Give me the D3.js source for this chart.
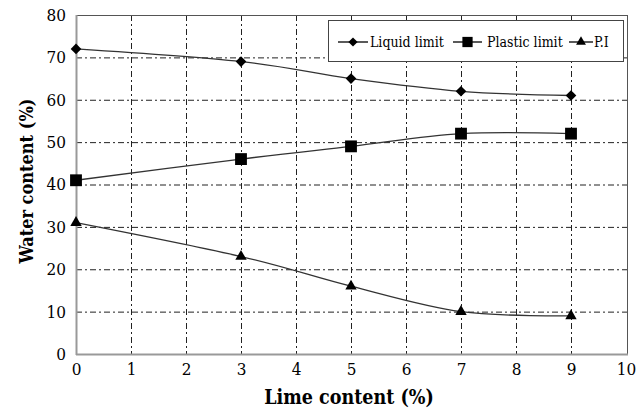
<!DOCTYPE html>
<html>
<head>
<meta charset="utf-8">
<script src="https://cdn.jsdelivr.net/npm/d3@7"></script>
<style>
  html, body { margin: 0; padding: 0; background: #fff; }
  svg { display: block; }
  .tick text { font-family: "DejaVu Serif Condensed", "DejaVu Serif", serif; font-size: 17px; fill: #000; }
  .title { font-family: "DejaVu Serif Condensed", "DejaVu Serif", serif; font-weight: bold; fill: #000; }
  .legend text { font-family: "DejaVu Serif Condensed", "DejaVu Serif", serif; font-size: 14px; fill: #000; }
</style>
</head>
<body>
<svg id="chart" width="638" height="410"></svg>
<script>
// Lime content (%) and the Atterberg limits measured at each dosage
const limeContent = [0, 3, 5, 7, 9];
const liquidLimit = [72, 69, 65, 62, 61];
const plasticLimit = [41, 46, 49, 52, 52];
const plasticityIndex = [31, 23, 16, 10, 9];
const seriesNames = ["Liquid limit", "Plastic limit", "P.I"];
const xTicks = [0, 1, 2, 3, 4, 5, 6, 7, 8, 9, 10];
const yTicks = [0, 10, 20, 30, 40, 50, 60, 70, 80];

const svg = d3.select("#chart");
const plotLeft = 76, plotRight = 627, plotTop = 15, plotBottom = 354;

const x = d3.scaleLinear().domain([0, 10]).range([plotLeft, plotRight - 1]);
const y = d3.scaleLinear().domain([0, 80]).range([plotBottom, plotTop]);

// dash-dot grid
const grid = svg.append("g").attr("stroke", "#222").attr("stroke-width", 1)
  .attr("stroke-dasharray", "6,3,2,3");
grid.selectAll("line.h").data(yTicks.filter(d => d > 0 && d < 80)).join("line")
  .attr("x1", plotLeft).attr("x2", plotRight).attr("y1", d => y(d) + 0.5).attr("y2", d => y(d) + 0.5);
grid.selectAll("line.v").data(xTicks.filter(d => d > 0 && d < 10)).join("line")
  .attr("x1", d => Math.round(x(d)) + 0.5).attr("x2", d => Math.round(x(d)) + 0.5)
  .attr("y1", plotTop).attr("y2", plotBottom);

// plot frame
svg.append("rect").attr("x", plotLeft + 0.5).attr("y", plotTop + 0.5)
  .attr("width", plotRight - plotLeft).attr("height", plotBottom - plotTop)
  .attr("fill", "none").attr("stroke", "#555").attr("stroke-width", 1);
svg.append("line").attr("x1", plotLeft + 0.5).attr("x2", plotLeft + 0.5).attr("y1", plotTop).attr("y2", plotBottom + 1)
  .attr("stroke", "#999").attr("stroke-width", 2);
svg.append("line").attr("x1", plotLeft).attr("x2", plotRight + 1).attr("y1", plotBottom + 0.5).attr("y2", plotBottom + 0.5)
  .attr("stroke", "#999").attr("stroke-width", 2);

// axes (labels only)
const xAxis = svg.append("g").attr("transform", `translate(0,${plotBottom})`)
  .call(d3.axisBottom(x).tickValues(xTicks).tickSize(0).tickPadding(9));
xAxis.select(".domain").remove();
const yAxis = svg.append("g").attr("transform", `translate(${plotLeft},0)`)
  .call(d3.axisLeft(y).tickValues(yTicks).tickSize(0).tickPadding(10));
yAxis.select(".domain").remove();

svg.append("text").attr("class", "title").attr("x", 349).attr("y", 404)
  .style("font-size", "19.5px")
  .attr("text-anchor", "middle").text("Lime content (%)");
svg.append("text").attr("class", "title")
  .style("font-size", "18px")
  .attr("transform", `translate(33,181) rotate(-90)`)
  .attr("text-anchor", "middle").text("Water content (%)");

// series
const symbols = [d3.symbolDiamond2, d3.symbolSquare, d3.symbolTriangle];
const symbolSizes = [72, 140, 56];
const series = [liquidLimit, plasticLimit, plasticityIndex];
const line = d3.line().x(d => x(d[0])).y(d => y(d[1])).curve(d3.curveCatmullRom.alpha(0));

series.forEach((vals, i) => {
  const pts = limeContent.map((c, j) => [c, vals[j]]);
  svg.append("path").attr("d", line(pts)).attr("fill", "none")
    .attr("stroke", "#333").attr("stroke-width", 1.3);
  svg.append("g").selectAll("path").data(pts).join("path")
    .attr("transform", d => `translate(${x(d[0])},${y(d[1])})`)
    .attr("d", d3.symbol(symbols[i], symbolSizes[i])).attr("fill", "#000");
});

// legend
const lg = svg.append("g").attr("class", "legend");
lg.append("rect").attr("x", 328.5).attr("y", 20.5).attr("width", 295).attr("height", 41)
  .attr("fill", "#fff").attr("stroke", "#444").attr("stroke-width", 1);
const legendLine = [[338, 368], [453, 482], [569, 593]];
const legendText = [370, 487, 594];
seriesNames.forEach((name, i) => {
  const [a, b] = legendLine[i], ly = 42;
  lg.append("line").attr("x1", a).attr("x2", b).attr("y1", ly).attr("y2", ly)
    .attr("stroke", "#000").attr("stroke-width", 1.3);
  lg.append("path").attr("transform", `translate(${(a + b) / 2},${ly})`)
    .attr("d", d3.symbol(symbols[i], symbolSizes[i] * 0.75)).attr("fill", "#000");
  lg.append("text").attr("x", legendText[i]).attr("y", ly + 5).text(name);
});
</script>
</body>
</html>
